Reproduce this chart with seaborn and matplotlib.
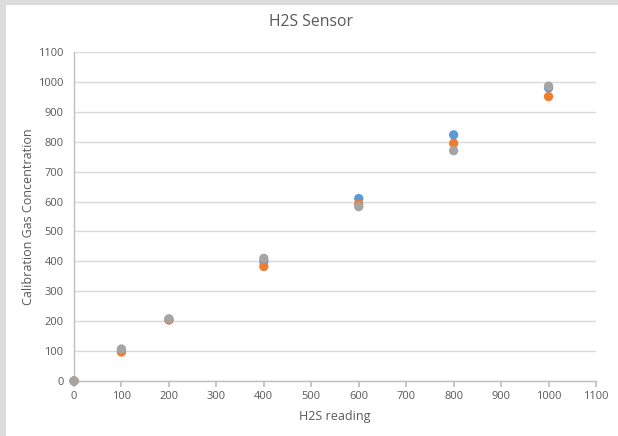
import matplotlib
matplotlib.use("Agg")
import matplotlib.pyplot as plt
import seaborn as sns
import pandas as pd
from matplotlib.patches import Rectangle

readings = [0, 100, 200, 400, 600, 800, 1000]
series1 = [0, 100, 205, 400, 610, 823, 980]
series2 = [0, 97, 204, 383, 592, 795, 951]
series3 = [0, 107, 208, 410, 583, 770, 986]
series_names = ["Series1", "Series2", "Series3"]
x_ticks = list(range(0, 1101, 100))
y_ticks = list(range(0, 1101, 100))

df = pd.DataFrame({
    "reading": readings * 3,
    "conc": series1 + series2 + series3,
    "series": [series_names[0]] * 7 + [series_names[1]] * 7 + [series_names[2]] * 7,
})

sns.set_theme(style="white")
plt.rcParams["font.family"] = ["Open Sans", "DejaVu Sans"]

W, H = 618, 436
fig = plt.figure(figsize=(W / 100, H / 100), dpi=100)
fig.patch.set_facecolor("#dcdcdc")
bg = Rectangle((6 / W, 0), 1 - 6 / W, 1 - 5 / H, transform=fig.transFigure,
               facecolor="white", edgecolor="none", zorder=-10)
fig.add_artist(bg)

ax = fig.add_axes([74 / W, (H - 381) / H, (596 - 74) / W, (381 - 52) / H])
ax.set_facecolor("white")

palette = {"Series1": "#5B9BD5", "Series2": "#ED7D31", "Series3": "#A5A5A5"}
sns.scatterplot(data=df, x="reading", y="conc", hue="series", palette=palette,
                s=45, linewidth=0, ax=ax, legend=False, zorder=3, clip_on=False)

ax.set_xlim(0, 1100)
ax.set_ylim(0, 1100)
ax.set_xticks(x_ticks)
ax.set_yticks(y_ticks)
ax.yaxis.grid(True, color="#d9d9d9", linewidth=1)
ax.xaxis.grid(False)
ax.set_axisbelow(True)

for s in ["top", "right"]:
    ax.spines[s].set_visible(False)
for s in ["left", "bottom"]:
    ax.spines[s].set_color("#bfbfbf")
    ax.spines[s].set_linewidth(1)

ax.tick_params(axis="x", which="major", length=4, color="#bfbfbf", labelsize=8, labelcolor="#595959", pad=3, direction="out", bottom=True)
ax.tick_params(axis="y", which="major", length=0, labelsize=8, labelcolor="#595959", pad=7.5, left=False)

ax.set_xlabel("H2S reading", fontsize=9, color="#595959", labelpad=6)
ax.set_ylabel("Calibration Gas Concentration", fontsize=9, color="#595959", labelpad=2)

fig.text(311 / W, 1 - 22 / H, "H2S Sensor", ha="center", va="center", fontsize=11.3, color="#595959")

fig.savefig("out.png", dpi=100, facecolor=fig.get_facecolor())
